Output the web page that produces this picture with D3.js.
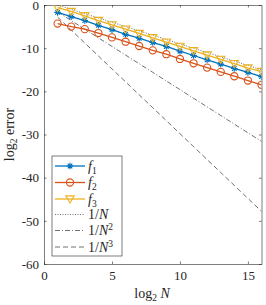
<!DOCTYPE html>
<html><head><meta charset="utf-8">
<script src="https://cdn.jsdelivr.net/npm/d3@7"></script>
<style>body{margin:0;background:#fff}svg{display:block}</style>
</head><body><svg id="c" width="266" height="305"></svg>
<script>
const logN = [1,2,3,4,5,6,7,8,9,10,11,12,13,14,15,16];
const f1 = [-1.7,-2.7,-3.6,-4.7,-5.7,-6.8,-7.7,-8.7,-9.6,-10.7,-11.7,-12.7,-13.7,-14.7,-15.6,-16.6];
const f2 = [-4.3,-5.0,-5.6,-6.5,-7.5,-8.5,-9.5,-10.5,-11.4,-12.5,-13.5,-14.5,-15.5,-16.5,-17.5,-18.5];
const f3 = [-0.6,-1.5,-2.5,-3.6,-4.6,-5.6,-6.6,-7.6,-8.6,-9.6,-10.6,-11.6,-12.6,-13.6,-14.6,-15.4];
const refN1 = [0,-1,-2,-3,-4,-5,-6,-7,-8,-9,-10,-11,-12,-13,-14,-15];
const refN2 = [-1.6,-3.6,-5.6,-7.6,-9.6,-11.6,-13.6,-15.6,-17.6,-19.6,-21.6,-23.6,-25.6,-27.6,-29.6,-31.6];
const refN3 = [-2.8,-5.8,-8.8,-11.8,-14.8,-17.8,-20.8,-23.8,-26.8,-29.8,-32.8,-35.8,-38.8,-41.8,-44.8,-47.8];
const xTicks = [0,5,10,15];
const yTicks = [0,-10,-20,-30,-40,-50,-60];

const FONT = "'Liberation Serif', 'Times New Roman', Times, 'DejaVu Serif', serif";
const svg = d3.select('#c');
const L=44, R=261.5, T=5, B=264;
const x = d3.scaleLinear().domain([0,16]).range([L,R]);
const y = d3.scaleLinear().domain([-60,0]).range([B,T]);
const ax='#262626';

const g = svg.append('g');
g.append('g').attr('transform',`translate(0,${B})`).call(d3.axisBottom(x).tickValues(xTicks).tickSizeInner(-2.5).tickSizeOuter(0).tickPadding(7));
g.append('g').attr('transform',`translate(0,${T})`).call(d3.axisTop(x).tickValues(xTicks).tickSizeInner(-2.5).tickSizeOuter(0).tickFormat(''));
g.append('g').attr('transform',`translate(${L},0)`).call(d3.axisLeft(y).tickValues(yTicks).tickSizeInner(-2.5).tickSizeOuter(0).tickPadding(5).tickFormat(d=>d<0?'-'+Math.abs(d):d));
g.append('g').attr('transform',`translate(${R},0)`).call(d3.axisRight(y).tickValues(yTicks).tickSizeInner(-2.5).tickSizeOuter(0).tickFormat(''));
g.selectAll('g').attr('font-family',FONT);
g.selectAll('.domain').attr('stroke',ax).attr('stroke-width',0.6);
g.selectAll('.tick line').attr('stroke',ax).attr('stroke-width',0.6);
g.selectAll('.tick text').attr('font-size',13).attr('fill',ax);

svg.append('clipPath').attr('id','cl').append('rect').attr('x',L).attr('y',T).attr('width',R-L).attr('height',B-T);
const plot = svg.append('g').attr('clip-path','url(#cl)');
const line = d3.line().x((d,i)=>x(logN[i])).y(d=>y(d));

const refs=[{v:refN1,dash:'1,1.5'},{v:refN2,dash:'5,2,1,2'},{v:refN3,dash:'5,3'}];
refs.forEach(r=>plot.append('path').attr('d',line(r.v)).attr('fill','none').attr('stroke','#333').attr('stroke-width',0.7).attr('stroke-dasharray',r.dash));

const cols=['#0072BD','#D95319','#EDB120'];
const star = s=>`M${-s},0L${s},0M0,${-s}L0,${s}M${-s*0.7},${-s*0.7}L${s*0.7},${s*0.7}M${-s*0.7},${s*0.7}L${s*0.7},${-s*0.7}`;
const circ = r=>`M${r},0A${r},${r} 0 1,1 ${-r},0A${r},${r} 0 1,1 ${r},0Z`;
const tri = s=>`M${-s},${-s*0.75}L${s},${-s*0.75}L0,${s*0.95}Z`;
const mk=[star(3.3),circ(3.6),tri(4.2)];
const ser=[f1,f2,f3];
ser.forEach((s,k)=>{
  plot.append('path').attr('d',line(s)).attr('fill','none').attr('stroke',cols[k]).attr('stroke-width',1.3);
  plot.selectAll(null).data(s).enter().append('path')
   .attr('transform',(d,i)=>`translate(${x(logN[i])},${y(d)})`)
   .attr('d',mk[k]).attr('fill','none').attr('stroke',cols[k]).attr('stroke-width',1.1);
});

const lg = svg.append('g').attr('font-family',FONT);
lg.append('rect').attr('x',52).attr('y',156).attr('width',70).attr('height',100).attr('fill','#fff').attr('stroke',ax).attr('stroke-width',0.6);
const rowsY=[166,182.5,199,214.5,230.5,247];
const subs=['1','2','3',null,'2','3'];
rowsY.forEach((yy,i)=>{
  if(i<3){
    lg.append('line').attr('x1',55).attr('x2',85).attr('y1',yy).attr('y2',yy).attr('stroke',cols[i]).attr('stroke-width',1.3);
    lg.append('path').attr('transform',`translate(70,${yy})`).attr('d',mk[i]).attr('fill','none').attr('stroke',cols[i]).attr('stroke-width',1.1);
  } else {
    lg.append('line').attr('x1',55).attr('x2',85).attr('y1',yy).attr('y2',yy).attr('stroke','#333').attr('stroke-width',0.7).attr('stroke-dasharray',refs[i-3].dash);
  }
  const t=lg.append('text').attr('x',88).attr('y',yy+4.5).attr('font-size',14).attr('fill',ax).attr('font-family',FONT);
  if(i<3){
    t.append('tspan').text('f').attr('font-style','italic');
    t.append('tspan').text(subs[i]).attr('font-size',9.5).attr('dy',3);
  } else {
    t.append('tspan').text('1/');
    t.append('tspan').text('N').attr('font-style','italic');
    if(subs[i]) t.append('tspan').text(subs[i]).attr('font-size',9.5).attr('dy',-5);
  }
});

const xl=svg.append('text').attr('x',152).attr('y',298).attr('text-anchor','middle').attr('font-size',14).attr('fill',ax).attr('font-family',FONT);
xl.append('tspan').text('log');
xl.append('tspan').text('2').attr('font-size',9.5).attr('dy',3);
xl.append('tspan').text(' N').attr('font-style','italic').attr('dy',-3);
const yl=svg.append('text').attr('transform',`translate(14,${(T+B)/2}) rotate(-90)`).attr('text-anchor','middle').attr('font-size',14).attr('fill',ax).attr('font-family',FONT);
yl.append('tspan').text('log');
yl.append('tspan').text('2').attr('font-size',9.5).attr('dy',3);
yl.append('tspan').text(' error').attr('dy',-3);
</script></body></html>
